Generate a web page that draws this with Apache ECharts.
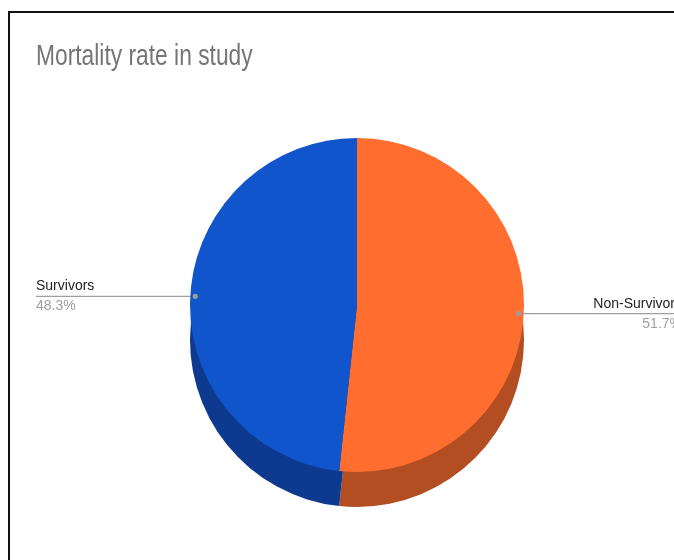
<!DOCTYPE html>
<html>
<head>
<meta charset="utf-8">
<script src="https://cdn.jsdelivr.net/npm/echarts@6/dist/echarts.min.js"></script>
<style>
  html, body { margin: 0; padding: 0; background: #fff; overflow: hidden; width: 674px; height: 560px; }
  .frame { position: absolute; left: 8px; top: 11px; width: 760px; height: 640px; border: 2px solid #111; }
  #main { position: absolute; left: 0; top: 0; width: 718px; height: 560px; }
</style>
</head>
<body>
<div class="frame"></div>
<div id="main"></div>
<script>
// slices, clockwise from 12 o'clock
var categories = ['Non-Survivors', 'Survivors'];
var shares = [51.7, 48.3];
var topColors = ['#ff6d2f', '#1155cc'];
var sideColors = ['#b24e22', '#0d3a8e'];
var titleText = 'Mortality rate in study';

var CX = 357, CY = 305, R = 167, DEPTH = 35;

var myChart = echarts.init(document.getElementById('main'));

// dot where each label line starts (mid angle of slice, a bit inside the rim)
function dotPoint(i) {
  var total = shares.reduce(function (a, b) { return a + b; }, 0);
  var before = 0;
  for (var k = 0; k < i; k++) before += shares[k];
  var ang = (before + shares[i] / 2) / total * Math.PI * 2;
  var r = R - 5;
  return [CX + r * Math.sin(ang), CY - r * Math.cos(ang)];
}

var topData = categories.map(function (c, i) {
  return { name: c, value: shares[i], itemStyle: { color: topColors[i] } };
});
var sideData = categories.map(function (c, i) {
  return { name: c, value: shares[i], itemStyle: { color: sideColors[i] } };
});

var dots = categories.map(function (c, i) {
  var p = dotPoint(i);
  return {
    type: 'circle',
    z: 100,
    shape: { cx: p[0], cy: p[1], r: 2.6 },
    style: { fill: '#9e9e9e' }
  };
});

myChart.setOption({
  animation: false,
  series: [{
    // side wall of the 3d pie
    type: 'pie',
    silent: true,
    center: [CX, CY + DEPTH],
    radius: R,
    startAngle: 90,
    itemStyle: { borderWidth: 0 },
    label: { show: false },
    labelLine: { show: false },
    data: sideData,
    z: 1
  }, {
    type: 'pie',
    center: [CX, CY],
    radius: R,
    startAngle: 90,
    percentPrecision: 1,
    itemStyle: { borderWidth: 0 },
    label: {
      position: 'outside',
      alignTo: 'edge',
      edgeDistance: 36,
      formatter: '{n|{b}}\n{p|{d}%}',
      rich: {
        n: { fontFamily: 'Liberation Sans, Arial', fontSize: 14, color: '#222', lineHeight: 20 },
        p: { fontFamily: 'Liberation Sans, Arial', fontSize: 14, color: '#9e9e9e', lineHeight: 20 }
      }
    },
    labelLine: {
      length: 1,
      length2: 10,
      lineStyle: { color: '#9e9e9e', width: 1.2 }
    },
    labelLayout: function (params) {
      var p0 = dotPoint(params.dataIndex);
      var rect = params.labelRect;
      var left = p0[0] < CX;
      var endX = left ? rect.x : rect.x + rect.width;
      return {
        y: p0[1],
        verticalAlign: 'middle',
        labelLinePoints: [p0, [p0[0], p0[1]], [endX, p0[1]]]
      };
    },
    data: topData,
    z: 2
  }],
  graphic: [{
    // chart title, condensed like the original
    type: 'text',
    x: 36,
    y: 42,
    scaleX: 0.76,
    z: 100,
    style: {
      text: titleText,
      fontFamily: 'Liberation Sans, Arial',
      fontSize: 30,
      fill: '#757575',
      verticalAlign: 'top'
    }
  }].concat(dots)
});
</script>
</body>
</html>
